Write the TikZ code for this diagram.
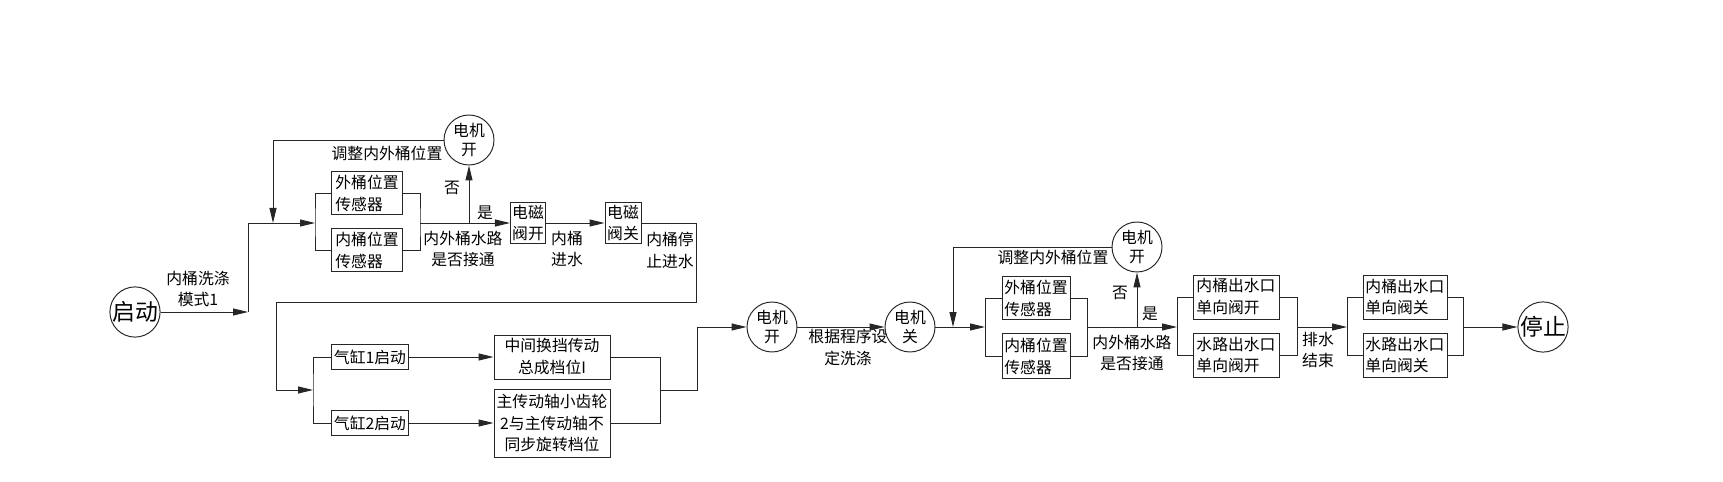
\documentclass[tikz,border=0pt]{standalone}
\usepackage{fontspec}
\setmainfont{Noto Sans CJK SC}
\usepackage{tikz}
\usetikzlibrary{arrows.meta, positioning, calc}

\begin{document}
\begin{tikzpicture}[x=0.02cm, y=-0.02cm, font=\fontsize{9}{12.5}\selectfont, line width=0.55pt, draw=black!85,
    >={Triangle[length=3mm,width=1.4mm]},
    box/.style={draw, rectangle, inner sep=1pt, align=left},
    circ/.style={draw, circle, minimum size=1cm, inner sep=0pt, align=center, font=\fontsize{9}{10.5}\selectfont},
    lbl/.style={align=center}]
    \useasboundingbox (0,0) rectangle (1723,482);

    % first stage
    \node[circ, font=\fontsize{13}{14}\selectfont] (start) at (135,312) {启动};
    \node[box, minimum width=1.42cm, minimum height=0.86cm] (sensOut) at (367,193) {外桶位置\\传感器};
    \node[box, minimum width=1.42cm, minimum height=0.86cm] (sensIn) at (367,250) {内桶位置\\传感器};
    \node[circ] (motorA) at (469,140) {电机\\开};
    \node[box, minimum width=0.7cm, minimum height=0.78cm] (valveOpen) at (528,223) {电磁\\阀开};
    \node[box, minimum width=0.72cm, minimum height=0.8cm] (valveClose) at (623,223) {电磁\\阀关};
    \coordinate (jA) at (248,312);
    \coordinate (jB) at (315,223);
    \coordinate (jC) at (420,223);
    \coordinate (jD) at (469,223);
    \coordinate (jE) at (273,223);

    \draw[->] (start) -- (jA);
    \draw[->] (jA) |- (jB);
    \draw (sensOut.west) -| (jB) |- (sensIn.west);
    \draw (sensOut.east) -| (jC) |- (sensIn.east);
    \draw[->] (jC) -- (valveOpen);
    \draw[->] (jD) -- (motorA);
    \draw[->] (motorA.west) -| (jE);
    \draw[->] (valveOpen) -- (valveClose);
    \node[lbl] (lblMode) at (198,289) {内桶洗涤\\模式1};
    \node[lbl] (lblAdjA) at (387,153) {调整内外桶位置};
    \node[lbl] (lblNoA) at (452,188) {否};
    \node[lbl] (lblYesA) at (485,213) {是};
    \node[lbl] (lblPathA) at (463,249) {内外桶水路\\是否接通};
    \node[lbl] (lblFill) at (567,249) {内桶\\进水};
    \node[lbl] (lblStopFill) at (670,250) {内桶停\\止进水};

    % gear stage
    \node[box, minimum width=1.54cm, minimum height=0.5cm] (cylA) at (370,357) {气缸1启动};
    \node[box, minimum width=1.54cm, minimum height=0.5cm] (cylB) at (370,423) {气缸2启动};
    \node[box, align=center, minimum width=2.32cm, minimum height=0.88cm] (gearA) at (552,357) {中间换挡传动\\总成档位I};
    \node[box, align=center, minimum width=2.32cm, minimum height=1.36cm] (gearB) at (552,423) {主传动轴小齿轮\\2与主传动轴不\\同步旋转档位};
    \coordinate (rA) at (696,302);
    \coordinate (rB) at (276,390);
    \coordinate (jF) at (313,390);
    \coordinate (jG) at (660,390);
    \coordinate (rC) at (697,390);

    \draw[->] (valveClose.east) -| (rA) -| (rB) -- (jF);
    \draw (cylA.west) -| (jF) |- (cylB.west);
    \draw[->] (cylA) -- (gearA);
    \draw[->] (cylB) -- (gearB);
    \draw (gearA.east) -| (jG) |- (gearB.east);

    % washing and second check
    \node[circ] (motorB) at (772,327) {电机\\开};
    \node[circ] (motorC) at (910,327) {电机\\关};
    \node[box, minimum width=1.36cm, minimum height=0.86cm] (sensOutB) at (1036,298) {外桶位置\\传感器};
    \node[box, minimum width=1.36cm, minimum height=0.9cm] (sensInB) at (1036,356) {内桶位置\\传感器};
    \node[circ] (motorD) at (1137,247) {电机\\开};
    \coordinate (jH) at (985,327);
    \coordinate (jI) at (953,327);
    \coordinate (jJ) at (1087,327);
    \coordinate (jK) at (1137,327);
    \coordinate (jL) at (1177,327);

    \draw[->] (jG) -- (rC) |- (motorB.west);
    \draw[->] (motorB) -- (motorC);
    \draw[->] (motorC) -- (jH);
    \draw (sensOutB.west) -| (jH) |- (sensInB.west);
    \draw (sensOutB.east) -| (jJ) |- (sensInB.east);
    \draw[->] (jJ) -- (jL);
    \draw[->] (jK) -- (motorD);
    \draw[->] (motorD.west) -| (jI);
    \node[lbl] (lblWash) at (848,347) {根据程序设\\定洗涤};
    \node[lbl] (lblAdjB) at (1053,257) {调整内外桶位置};
    \node[lbl] (lblNoB) at (1120,293) {否};
    \node[lbl] (lblYesB) at (1150,314) {是};
    \node[lbl] (lblPathB) at (1132,353) {内外桶水路\\是否接通};

    % drain and stop
    \node[box, minimum width=1.72cm, minimum height=0.88cm] (outInOpen) at (1236,297) {内桶出水口\\单向阀开};
    \node[box, minimum width=1.72cm, minimum height=0.88cm] (outWaterOpen) at (1236,355) {水路出水口\\单向阀开};
    \node[box, minimum width=1.68cm, minimum height=0.88cm] (outInClose) at (1405,297) {内桶出水口\\单向阀关};
    \node[box, minimum width=1.68cm, minimum height=0.88cm] (outWaterClose) at (1405,355) {水路出水口\\单向阀关};
    \node[circ, font=\fontsize{13}{14}\selectfont] (stop) at (1543,327) {停止};
    \coordinate (jM) at (1297,327);
    \coordinate (jN) at (1347,327);
    \coordinate (jO) at (1463,327);

    \draw (outInOpen.west) -| (jL) |- (outWaterOpen.west);
    \draw (outInOpen.east) -| (jM) |- (outWaterOpen.east);
    \draw[->] (jM) -- (jN);
    \draw (outInClose.west) -| (jN) |- (outWaterClose.west);
    \draw (outInClose.east) -| (jO) |- (outWaterClose.east);
    \draw[->] (jO) -- (stop);
    \node[lbl] (lblDrain) at (1318,350) {排水\\结束};
\end{tikzpicture}
\end{document}
